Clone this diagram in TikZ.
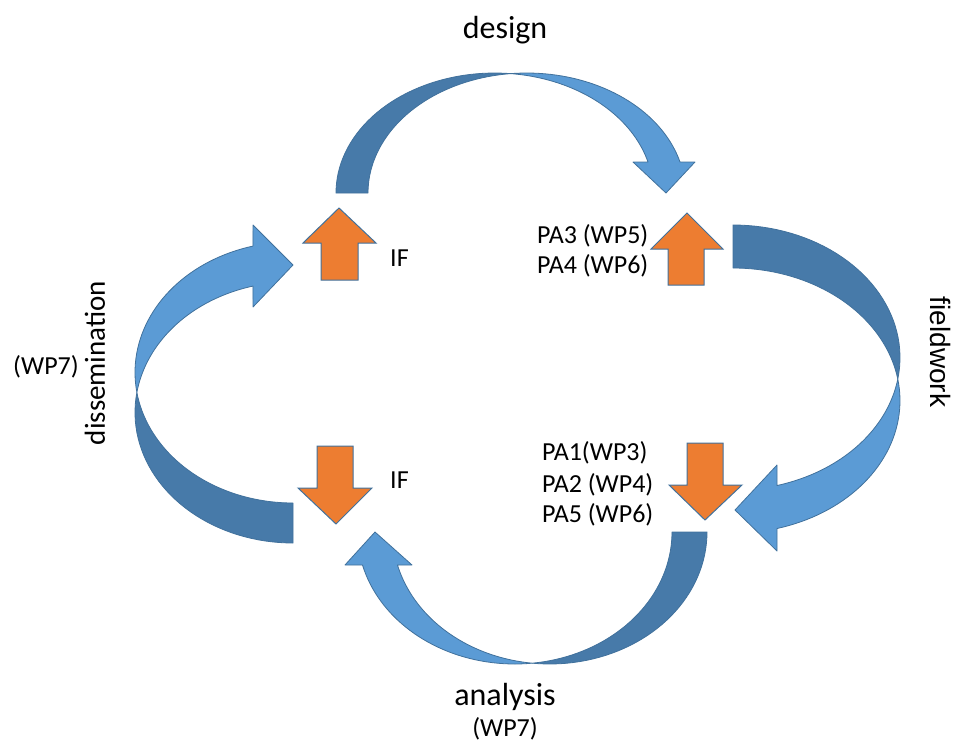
\documentclass[tikz,border=0pt]{standalone}
\usepackage{fontspec}
\setmainfont{Carlito}
\newfontfamily\arialf{Liberation Sans}
\definecolor{bluelight}{RGB}{91,155,213}
\definecolor{bluedark}{RGB}{71,122,169}
\definecolor{blueline}{RGB}{65,113,156}
\definecolor{orangefill}{RGB}{237,125,49}
\begin{document}
\begin{tikzpicture}[x=1pt,y=-1pt,
  band/.style={draw=blueline, line width=0.8pt, line join=round},
  orangearrow/.style={draw=blueline, line width=1pt, fill=orangefill, line join=miter},
  big/.style={font=\fontsize{32}{38}\selectfont},
  mid/.style={font=\fontsize{26}{31}\selectfont},
  smp/.style={samples=40}]
\useasboundingbox (0,0) rectangle (953,745);

% ---------- top curved arrow (design) ----------
\draw[band, fill=bluedark] plot[smp, domain=180:275.79] ({494.7+158.7*cos(\x)},{193+120*sin(\x)})
  -- plot[smp, domain=264.21:180] ({526.7+158.7*cos(\x)},{193+120*sin(\x)}) -- cycle;
\draw[band, fill=bluelight] plot[smp, domain=264.21:345.03] ({526.7+158.7*cos(\x)},{193+120*sin(\x)})
  -- (695,162) -- (666,193) -- (633,162)
  -- plot[smp, domain=345.03:275.79] ({494.7+158.7*cos(\x)},{193+120*sin(\x)}) -- cycle;

% ---------- right curved arrow (fieldwork) ----------
\draw[band, fill=bluedark] plot[smp, domain=-90:9.33] ({733+167*cos(\x)},{357.6+132.6*sin(\x)})
  -- plot[smp, domain=-9.33:-90] ({733+167*cos(\x)},{400.6+132.6*sin(\x)}) -- cycle;
\draw[band, fill=bluelight] plot[smp, domain=-9.33:74.72] ({733+167*cos(\x)},{400.6+132.6*sin(\x)})
  -- (777,551) -- (735,510) -- (777,465)
  -- plot[smp, domain=74.72:9.33] ({733+167*cos(\x)},{357.6+132.6*sin(\x)}) -- cycle;

% ---------- left curved arrow (dissemination) ----------
\draw[band, fill=bluedark] plot[smp, domain=90:188.81] ({293+158*cos(\x)},{412.4+130.6*sin(\x)})
  -- plot[smp, domain=171.19:90] ({293+158*cos(\x)},{372.4+130.6*sin(\x)}) -- cycle;
\draw[band, fill=bluelight] plot[smp, domain=171.19:255.33] ({293+158*cos(\x)},{372.4+130.6*sin(\x)})
  -- (253,225) -- (293,265) -- (253,307)
  -- plot[smp, domain=255.33:188.81] ({293+158*cos(\x)},{412.4+130.6*sin(\x)}) -- cycle;

% ---------- bottom curved arrow (analysis) ----------
\draw[band, fill=bluedark] plot[smp, domain=0:96.39] ({549.75+157.25*cos(\x)},{532+132*sin(\x)})
  -- plot[smp, domain=83.61:0] ({514.75+157.25*cos(\x)},{532+132*sin(\x)}) -- cycle;
\draw[band, fill=bluelight] plot[smp, domain=83.61:165.52] ({514.75+157.25*cos(\x)},{532+132*sin(\x)})
  -- (345,565) -- (375,532) -- (412,565)
  -- plot[smp, domain=165.52:96.39] ({549.75+157.25*cos(\x)},{532+132*sin(\x)}) -- cycle;

% ---------- orange block arrows ----------
\draw[orangearrow] (339,208) -- (376,243) -- (358,243) -- (358,280) -- (321,280) -- (321,243) -- (303,243) -- cycle;
\draw[orangearrow] (687,213) -- (723,249) -- (704,249) -- (704,285) -- (668,285) -- (668,249) -- (651,249) -- cycle;
\draw[orangearrow] (705,520) -- (742,485) -- (723,485) -- (723,443) -- (687,443) -- (687,485) -- (669,485) -- cycle;
\draw[orangearrow] (336,524) -- (372,488) -- (353,488) -- (353,446) -- (317,446) -- (317,488) -- (298,488) -- cycle;

% ---------- labels ----------
\node[big, anchor=base] (design) at (505,38) {design};
\node[big, anchor=base] (analysis) at (505,705) {analysis};
\node[mid, anchor=base] (wpb) at (505,736) {(WP7)};
\node[mid] (wpl) at (46,367) {(WP7)};
\node[font=\fontsize{29}{35}\selectfont, rotate=90] (dissem) at (95,363) {dissemination};
\node[font=\arialf\fontsize{28}{34}\selectfont, rotate=-90] (field) at (940,352) {fieldwork};
\node[mid, anchor=base west, inner sep=0pt] (ift) at (390,266) {IF};
\node[mid, anchor=base west, inner sep=0pt] (ifb) at (390,488) {IF};
\node[mid, anchor=base west, inner sep=0pt] (pa3) at (537,243) {PA3 (WP5)};
\node[mid, anchor=base west, inner sep=0pt] (pa4) at (537,273) {PA4 (WP6)};
\node[mid, anchor=base west, inner sep=0pt] (pa1) at (542,460) {PA1(WP3)};
\node[mid, anchor=base west, inner sep=0pt] (pa2) at (542,492) {PA2 (WP4)};
\node[mid, anchor=base west, inner sep=0pt] (pa5) at (542,522) {PA5 (WP6)};
\end{tikzpicture}
\end{document}
